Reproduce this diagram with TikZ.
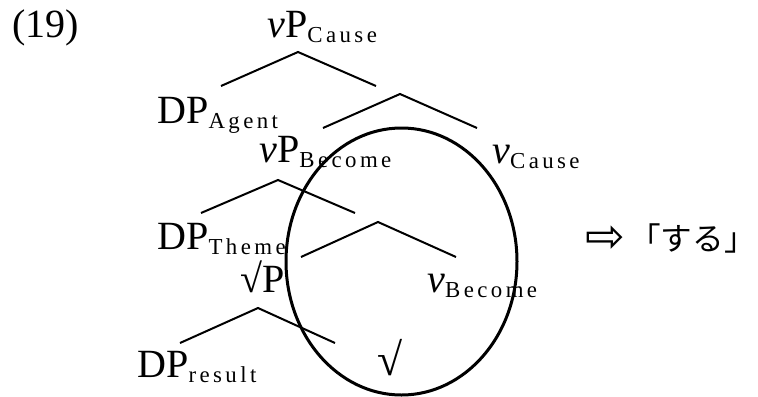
\documentclass[tikz,border=0pt]{standalone}
\usepackage{fontspec}
\setmainfont{Liberation Serif}
\newfontfamily\subfont[LetterSpace=15]{Liberation Serif}
\newfontfamily\jpfont{Noto Sans CJK JP}
\newfontfamily\symfont{DejaVu Sans}
\usetikzlibrary{calc}

\newcommand{\catsub}[1]{\raisebox{-0.1cm}{\fontsize{13pt}{14pt}\subfont #1}}

\begin{document}
\begin{tikzpicture}[x=0.02cm,y=-0.02cm,
  cat/.style={anchor=base west,inner sep=0pt,font=\fontsize{22.8pt}{26pt}\selectfont},
  branch/.style={line width=0.04cm},
  ring/.style={line width=0.06cm}]

\useasboundingbox (0,0) rectangle (758,396);

% Example number
\node[cat] (ex) at (12,37) {(19)};

% Categories
\node[cat] (vpcause) at (267,37) {\textit{v}P\catsub{Cause}};
\node[cat] (dpagent) at (157,123) {DP\catsub{Agent}};
\node[cat] (vpbecome) at (259,162) {\textit{v}P\catsub{Become}};
\node[cat] (vcause) at (492,163) {\textit{v}\catsub{Cause}};
\node[cat] (dptheme) at (157,249) {DP\catsub{Theme}};
\node[cat] (rootp) at (240,292) {√P};
\node[cat] (vbecome) at (427,292) {\textit{v}\catsub{Become}};
\node[cat] (dpresult) at (137,377) {DP\catsub{result}};
\node[cat,font=\fontsize{26pt}{28pt}\selectfont] (root) at (377,375) {√};

% Branches
\foreach \n/\ax/\ay/\lx/\rx/\by in {1/298/52/221/376/86, 2/400/94/323/477/128,
  3/278/180/201/355/213, 4/378/222/301/456/257, 5/258/308/180/335/343}
{
\coordinate (top\n) at (\ax,\ay);
\coordinate (left\n) at (\lx,\by);
\coordinate (right\n) at (\rx,\by);
\draw[branch] (left\n) -- (top\n) -- (right\n);
}

% Circled part
\coordinate (mid) at (401.5,261.5);
\draw[ring] (mid) ellipse [x radius=115.5, y radius=133.5];

% Spell-out
\node[inner sep=0pt,font=\symfont\fontsize{27pt}{28pt}\selectfont] (arrow) at (605,239) {⇨};
\node[anchor=west,inner sep=0pt,font=\jpfont\fontsize{18pt}{20pt}\selectfont] (suru) at (629,238) {「する」};

\end{tikzpicture}
\end{document}
